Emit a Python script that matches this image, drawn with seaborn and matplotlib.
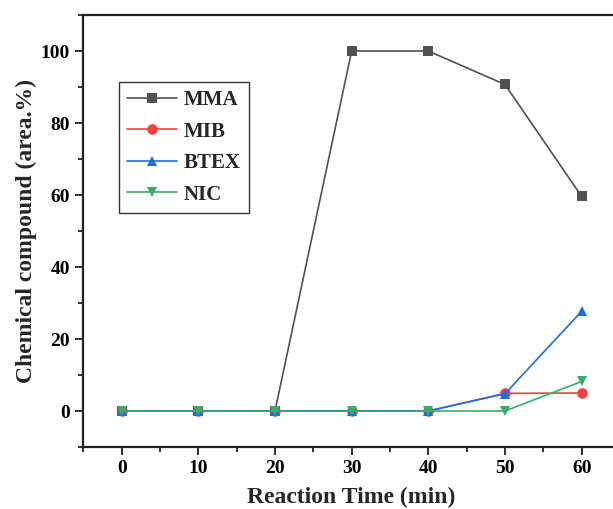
import pandas as pd
import seaborn as sns
from matplotlib import pyplot as plt
from matplotlib.ticker import MultipleLocator

# reaction time (min) and area.% of each compound
time = [0, 10, 20, 30, 40, 50, 60]
mma  = [0, 0, 0, 100, 100, 90.7, 59.6]
mib  = [0, 0, 0, 0, 0, 4.9, 5.0]
btex = [0, 0, 0, 0, 0, 4.8, 27.7]
nic  = [0, 0, 0, 0, 0, 0, 8.2]

names   = ["MMA", "MIB", "BTEX", "NIC"]
colors  = ["#515151", "#F14040", "#1A6FDF", "#37AD6B"]
markers = ["s", "o", "^", "v"]

df = pd.DataFrame({"time": time, "MMA": mma, "MIB": mib, "BTEX": btex, "NIC": nic})

sns.set_style("ticks")
plt.rcParams["font.family"] = ["Liberation Serif", "DejaVu Serif"]
plt.rcParams["font.weight"] = "bold"

fig = plt.figure(figsize=(6.13, 5.09), dpi=100)
# right edge is cut off in the reference, so the axes run just past the figure
ax = fig.add_axes([0.1359, 0.1218, 0.8755, 0.8487])

for name, c, m in zip(names, colors, markers):
    sns.lineplot(data=df, x="time", y=name, ax=ax, color=c, marker=m,
                 markersize=7.6, markeredgewidth=0, linewidth=1.2, label=name)

ax.set_xlim(-5, 65)
ax.set_ylim(-10, 110)
ax.xaxis.set_major_locator(MultipleLocator(10))
ax.xaxis.set_minor_locator(MultipleLocator(5))
ax.yaxis.set_major_locator(MultipleLocator(20))
ax.yaxis.set_minor_locator(MultipleLocator(10))
ax.tick_params(which="major", direction="out", length=6, width=1.3,
               labelsize=14, colors="#222222", labelcolor="black")
ax.tick_params(which="minor", direction="out", length=3.5, width=1.3, colors="#222222")
for s in ax.spines.values():
    s.set_linewidth(1.6)
    s.set_color("#222222")

ax.set_xlabel("Reaction Time (min)", fontsize=17, fontweight="bold", labelpad=7)
ax.set_ylabel("Chemical compound (area.%)", fontsize=17, fontweight="bold", labelpad=3)

leg = ax.legend(loc="upper left", bbox_to_anchor=(0.194, 0.839),
                bbox_transform=fig.transFigure, borderaxespad=0,
                prop={"size": 15, "weight": "bold"}, handlelength=2.4,
                labelspacing=0.55, frameon=True, fancybox=False,
                borderpad=0.4, handletextpad=0.3)
leg.get_frame().set_edgecolor("black")
leg.get_frame().set_linewidth(1.0)

fig.savefig("out.png", dpi=100)
